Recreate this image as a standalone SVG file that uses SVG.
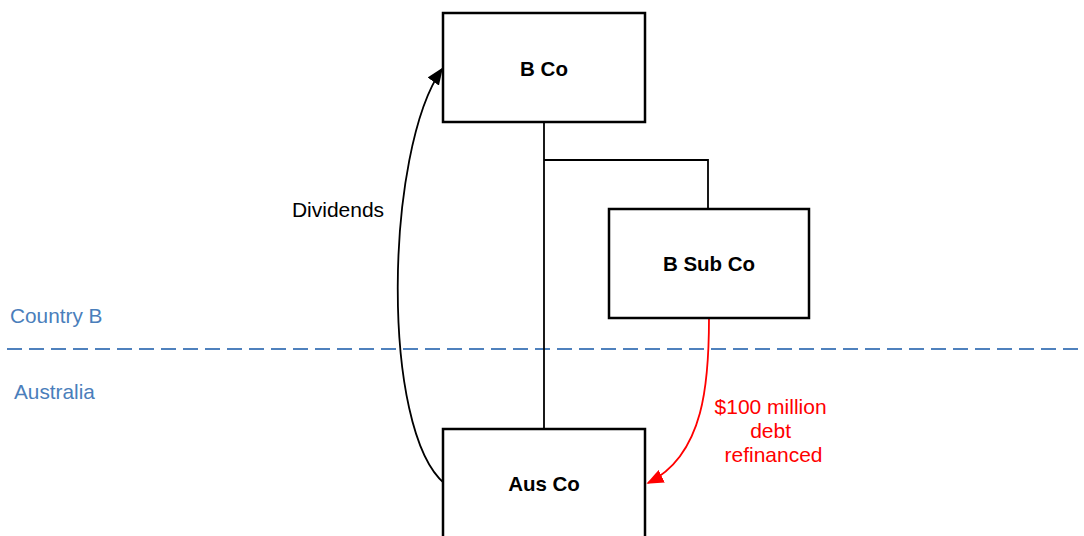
<svg xmlns="http://www.w3.org/2000/svg" width="1084" height="536" viewBox="0 0 1084 536">
  <style>
    .box { fill: #ffffff; stroke: #000000; stroke-width: 2.5; }
    .title { font-family: "Liberation Sans", Arial, sans-serif; font-size: 20.5px; font-weight: bold; fill: #000000; text-anchor: middle; }
    .label { font-family: "Liberation Sans", Arial, sans-serif; font-size: 21px; }
    .link { fill: none; stroke: #000000; stroke-width: 1.8; }
    .region { font-family: "Liberation Sans", Arial, sans-serif; font-size: 20.8px; fill: #4a7ebb; }
  </style>
  <defs>
    <marker id="arrowBlack" viewBox="0 0 10 10" refX="9" refY="5" markerWidth="17" markerHeight="14" markerUnits="userSpaceOnUse" orient="auto" preserveAspectRatio="none">
      <path d="M0,0 L10,5 L0,10 Z" fill="#000000"/>
    </marker>
    <marker id="arrowRed" viewBox="0 0 10 10" refX="9" refY="5" markerWidth="17" markerHeight="14" markerUnits="userSpaceOnUse" orient="auto" preserveAspectRatio="none">
      <path d="M0,0 L10,5 L0,10 Z" fill="#ff0000"/>
    </marker>
  </defs>

  <!-- border between jurisdictions -->
  <g id="border">
    <line x1="7" y1="349" x2="1080" y2="349" stroke="#4f81bd" stroke-width="2" stroke-dasharray="15 7"/>
    <text class="region" x="10" y="323">Country B</text>
    <text class="region" x="14" y="399">Australia</text>
  </g>

  <g id="connectors">
    <!-- ownership lines -->
    <line class="link" x1="544" y1="122" x2="544" y2="429"/>
    <polyline class="link" points="544,160 708,160 708,209"/>
    <!-- dividends flow -->
    <path class="link" d="M445,484 C380,430 385,150 442,69" marker-end="url(#arrowBlack)"/>
    <text class="label" x="338" y="217" text-anchor="middle" fill="#000000">Dividends</text>
    <!-- refinancing flow -->
    <path d="M709,318 C709,380 705,455 648,483" fill="none" stroke="#ff0000" stroke-width="1.8" marker-end="url(#arrowRed)"/>
    <text class="label" text-anchor="middle" fill="#ff0000">
      <tspan x="773.5" y="414">$100 million</tspan>
      <tspan x="773.5" y="438">debt</tspan>
      <tspan x="773.5" y="462">refinanced</tspan>
    </text>
  </g>

  <g id="b-co">
    <rect class="box" x="443" y="13" width="202" height="109"/>
    <text class="title" x="544" y="76">B Co</text>
  </g>

  <g id="b-sub-co">
    <rect class="box" x="609" y="209" width="200" height="109"/>
    <text class="title" x="709" y="271">B Sub Co</text>
  </g>

  <g id="aus-co">
    <rect class="box" x="443" y="429" width="202" height="109"/>
    <text class="title" x="544" y="491">Aus Co</text>
  </g>
</svg>
